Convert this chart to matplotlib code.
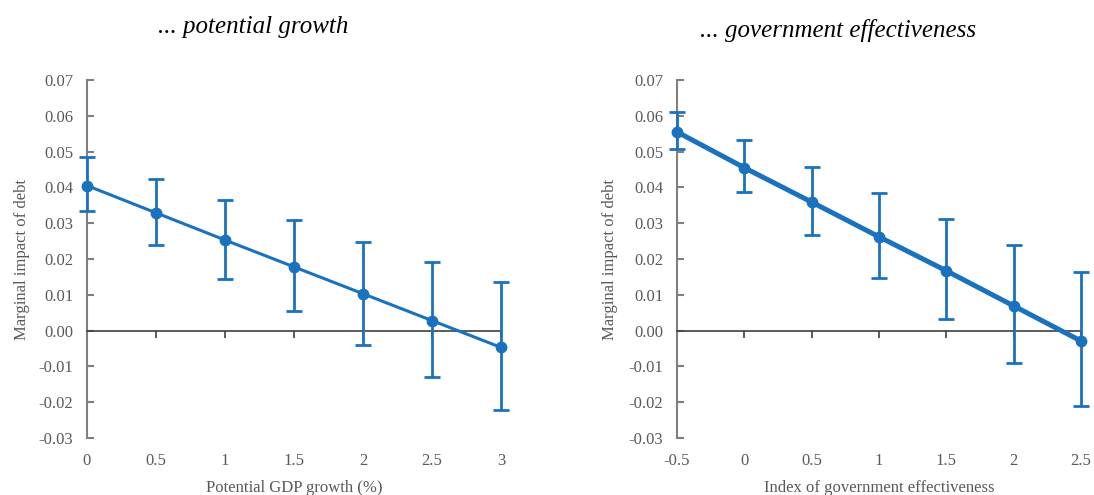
import matplotlib
matplotlib.use("Agg")
import matplotlib.pyplot as plt
from matplotlib.ticker import FormatStrFormatter

plt.rcParams['axes.unicode_minus'] = False

# marginal impact of debt conditional on potential growth
growth = [0, 0.5, 1, 1.5, 2, 2.5, 3]
growth_labels = ['0', '0.5', '1', '1.5', '2', '2.5', '3']
growth_eff = [0.0405, 0.0329, 0.0253, 0.0178, 0.0103, 0.0028, -0.0047]
growth_hi = [0.0484, 0.0424, 0.0366, 0.0309, 0.0248, 0.0192, 0.0136]
growth_lo = [0.0333, 0.0238, 0.0145, 0.0056, -0.0039, -0.0129, -0.0223]

# ... and conditional on government effectiveness
gov = [-0.5, 0, 0.5, 1, 1.5, 2, 2.5]
gov_labels = ['-0.5', '0', '0.5', '1', '1.5', '2', '2.5']
gov_eff = [0.0555, 0.0455, 0.0359, 0.0262, 0.0167, 0.0069, -0.0029]
gov_hi = [0.0610, 0.0533, 0.0458, 0.0385, 0.0313, 0.0238, 0.0163]
gov_lo = [0.0507, 0.0388, 0.0267, 0.0148, 0.0032, -0.0091, -0.0210]

y_ticks = [-0.03, -0.02, -0.01, 0.0, 0.01, 0.02, 0.03, 0.04, 0.05, 0.06, 0.07]

blue = '#1a72bf'
grey = '#595959'
serif = 'Liberation Serif'

fig = plt.figure(figsize=(10.94, 4.95), dpi=100)


def panel(rect, x, xlabels, eff, lo, hi, xlabel, lw, label_x):
    ax = fig.add_axes(rect)
    yerr = [[e - l for e, l in zip(eff, lo)], [h - e for e, h in zip(eff, hi)]]
    ax.errorbar(x, eff, yerr=yerr, fmt='-o', color=blue, lw=lw, ms=7.5,
                elinewidth=2, capsize=6, capthick=2, clip_on=False, zorder=3)
    ax.set_xlim(x[0], x[-1])
    ax.set_ylim(-0.03, 0.07)

    for s in ['top', 'right']:
        ax.spines[s].set_visible(False)
    ax.spines['left'].set_color('#7f7f7f')
    ax.spines['left'].set_linewidth(1.5)
    ax.spines['bottom'].set_position(('data', 0))
    ax.spines['bottom'].set_color('#404040')
    ax.spines['bottom'].set_linewidth(1.2)

    ax.set_yticks(y_ticks)
    ax.yaxis.set_major_formatter(FormatStrFormatter('%.2f'))
    ax.tick_params(axis='y', direction='in', length=5, width=1.5, color='#7f7f7f',
                   pad=10, labelsize=12, labelcolor=grey)
    ax.set_xticks(x)
    ax.tick_params(axis='x', direction='out', length=5, width=1.2, color='#404040',
                   labelbottom=False)
    for t in ax.get_yticklabels():
        t.set_fontfamily(serif)

    # tick labels sit below the plot, not on the zero line
    sec = ax.secondary_xaxis('bottom')
    sec.spines['bottom'].set_visible(False)
    sec.set_xticks(x)
    sec.set_xticklabels(xlabels, fontfamily=serif, fontsize=12, color=grey)
    sec.tick_params(length=0, pad=11)

    ax.set_ylabel('Marginal impact of debt', fontfamily=serif, fontsize=12, color=grey)
    ax.yaxis.set_label_coords(label_x, 0.5)
    ax.set_xlabel(xlabel, fontfamily=serif, fontsize=12, color=grey)
    ax.xaxis.set_label_coords(0.5, -0.118)
    return ax


panel([0.0795, 0.1152, 0.3784, 0.7232], growth, growth_labels,
      growth_eff, growth_lo, growth_hi, 'Potential GDP growth (%)', 2.2, -0.138)
panel([0.6188, 0.1152, 0.3693, 0.7232], gov, gov_labels,
      gov_eff, gov_lo, gov_hi, 'Index of government effectiveness', 3.6, -0.146)

fig.text(0.231, 0.945, '... potential growth', fontfamily=serif, style='italic',
         fontsize=18, ha='center', va='center')
fig.text(0.766, 0.938, '... government effectiveness', fontfamily=serif, style='italic',
         fontsize=18, ha='center', va='center')

fig.savefig('out.png', dpi=100)
